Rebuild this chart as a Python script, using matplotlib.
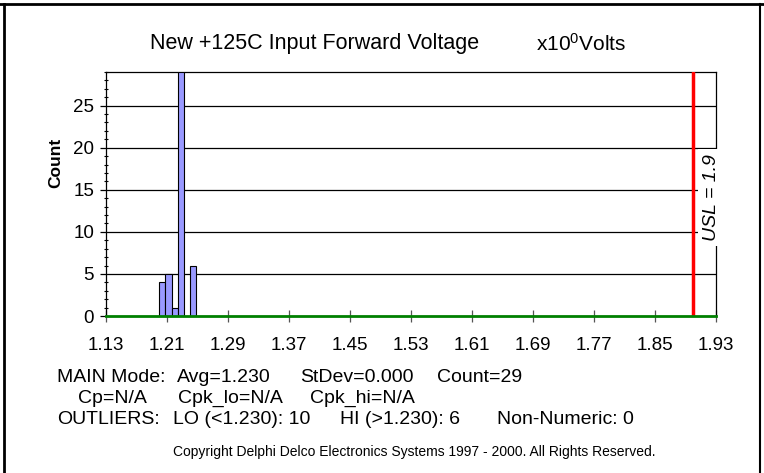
import matplotlib
matplotlib.use("Agg")
import matplotlib.pyplot as plt
from matplotlib.lines import Line2D
from matplotlib.ticker import MultipleLocator

## Data
bin_left = [1.200, 1.208, 1.216, 1.224, 1.240]
bin_count = [4, 5, 1, 29, 6]
bin_width = 0.008
x_ticks = [1.13, 1.21, 1.29, 1.37, 1.45, 1.53, 1.61, 1.69, 1.77, 1.85, 1.93]
y_ticks = [0, 5, 10, 15, 20, 25]
usl = 1.9

# stat text pieces (text, centre x in px); first piece of each row is left aligned
main_line = [("MAIN Mode:", 57), ("Avg=1.230", 224), ("StDev=0.000", 357), ("Count=29", 480)]
cp_line = [("Cp=N/A", 78), ("Cpk_lo=N/A", 230), ("Cpk_hi=N/A", 362)]
outlier_line = [("OUTLIERS:", 57), ("LO (<1.230): 10", 242), ("HI (>1.230): 6", 400),
                ("Non-Numeric: 0", 565)]

plt.rcParams["font.family"] = ["Liberation Sans", "DejaVu Sans"]
plt.rcParams["mathtext.fontset"] = "custom"
plt.rcParams["mathtext.rm"] = "Liberation Sans"
plt.rcParams["mathtext.it"] = "Liberation Sans:italic"

W, H = 764, 473
fig = plt.figure(figsize=(W / 100, H / 100), dpi=100)
ax = fig.add_axes([106 / W, 1 - 316 / H, 610 / W, 244 / H])

# histogram bars
ax.bar(bin_left, bin_count, width=bin_width, align="edge",
       color="#9999FF", edgecolor="black", linewidth=0.8, zorder=3)

# gridlines
for y in y_ticks[1:]:
    ax.axhline(y, color="black", linewidth=0.9, zorder=1)

# USL line
ax.axvline(usl, color="red", linewidth=2.5, zorder=4)
ax.text(1.924, 14.1, "USL = 1.9", rotation=90, style="italic", fontsize=14,
        ha="center", va="center", zorder=5,
        bbox=dict(facecolor="white", edgecolor="none", pad=3.5))

ax.set_xlim(1.13, 1.93)
ax.set_ylim(0, 29)
ax.set_xticks(x_ticks)
ax.set_xticklabels([f"{v:.2f}" for v in x_ticks])
ax.set_yticks(y_ticks)
ax.yaxis.set_minor_locator(MultipleLocator(1))
ax.tick_params(axis="x", which="major", direction="inout", length=8,
               width=0.9, labelsize=13.5, pad=11, colors="#555555", labelcolor="black")
ax.tick_params(axis="y", which="major", direction="out", length=4.5,
               width=0.9, labelsize=13.5, pad=4)
ax.tick_params(axis="y", which="minor", direction="inout", length=3.5, width=0.8)

for s in ["top", "right", "left"]:
    ax.spines[s].set_color("black")
    ax.spines[s].set_linewidth(0.9)
ax.spines["bottom"].set_color("#008000")
ax.spines["bottom"].set_linewidth(2)
ax.spines["bottom"].set_zorder(6)

fig.text(56 / W, 1 - 163 / H, "Count", rotation=90, fontweight="bold",
         fontsize=12.5, ha="center", va="center")

# title
fig.text(315 / W, 1 - 44 / H, "New +125C Input Forward Voltage",
         fontsize=15.5, ha="center", va="center")
fig.text(581 / W, 1 - 44 / H, "x10$^0$Volts",
         fontsize=15, ha="center", va="center")

# stats text
for line, ypix in [(main_line, 377), (cp_line, 398), (outlier_line, 420)]:
    for i, (txt, xpix) in enumerate(line):
        fig.text(xpix / W, 1 - ypix / H, txt, fontsize=14,
                 ha="left" if i == 0 else "center", va="center")

fig.text(414 / W, 1 - 452 / H,
         "Copyright Delphi Delco Electronics Systems 1997 - 2000. All Rights Reserved.",
         fontsize=10, ha="center", va="center")

# outer frame
fig.add_artist(Line2D([0, 1], [1 - 4 / H] * 2, color="black", linewidth=2,
                      transform=fig.transFigure))
fig.add_artist(Line2D([4 / W] * 2, [0, 1 - 4 / H], color="black", linewidth=2,
                      transform=fig.transFigure))
fig.add_artist(Line2D([760 / W] * 2, [0, 1 - 4 / H], color="black", linewidth=1.5,
                      transform=fig.transFigure))

fig.savefig("out.png", dpi=100)
